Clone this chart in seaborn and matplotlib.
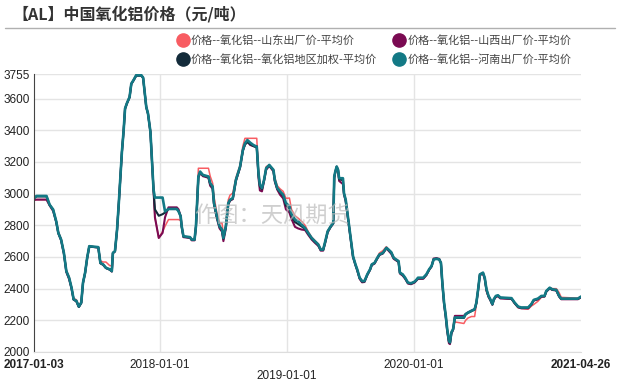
import pandas as pd
import matplotlib.pyplot as plt
from matplotlib.lines import Line2D
import matplotlib.transforms as mtransforms
import seaborn as sns

# 数据
dates = [
    "2017-01-03", "2017-01-10", "2017-02-08", "2017-02-17", "2017-02-27", "2017-03-08",
    "2017-03-14", "2017-03-22", "2017-03-30", "2017-04-06", "2017-04-14", "2017-04-21",
    "2017-04-27", "2017-05-05", "2017-05-12", "2017-05-19", "2017-05-24", "2017-05-30",
    "2017-06-05", "2017-06-11", "2017-07-07", "2017-07-13", "2017-07-21", "2017-07-29",
    "2017-08-09", "2017-08-15", "2017-08-18", "2017-08-24", "2017-08-30", "2017-09-04",
    "2017-09-08", "2017-09-13", "2017-09-18", "2017-09-22", "2017-09-27", "2017-10-05",
    "2017-10-10", "2017-10-17", "2017-10-24", "2017-11-08", "2017-11-13", "2017-11-17",
    "2017-11-22", "2017-11-27", "2017-12-04", "2017-12-09", "2017-12-13", "2017-12-17",
    "2017-12-28", "2018-01-08", "2018-01-15", "2018-01-25", "2018-02-18", "2018-02-23",
    "2018-03-01", "2018-03-04", "2018-03-09", "2018-03-28", "2018-04-02", "2018-04-10",
    "2018-04-14", "2018-04-21", "2018-04-26", "2018-05-04", "2018-05-20", "2018-05-25",
    "2018-06-01", "2018-06-05", "2018-06-13", "2018-06-21", "2018-06-28", "2018-07-02",
    "2018-07-09", "2018-07-16", "2018-07-21", "2018-07-29", "2018-08-07", "2018-08-19",
    "2018-08-27", "2018-09-02", "2018-09-09", "2018-09-17", "2018-09-26", "2018-10-06",
    "2018-10-11", "2018-10-15", "2018-10-21", "2018-10-27", "2018-11-02", "2018-11-11",
    "2018-11-23", "2018-11-27", "2018-12-04", "2018-12-12", "2018-12-21", "2018-12-29",
    "2019-01-08", "2019-01-14", "2019-01-24", "2019-02-02", "2019-02-12", "2019-02-22",
    "2019-03-03", "2019-03-13", "2019-03-22", "2019-04-01", "2019-04-08", "2019-04-15",
    "2019-04-20", "2019-04-28", "2019-05-07", "2019-05-14", "2019-05-17", "2019-05-20",
    "2019-05-24", "2019-05-28", "2019-05-31", "2019-06-11", "2019-06-14", "2019-06-19",
    "2019-06-24", "2019-06-30", "2019-07-05", "2019-07-10", "2019-07-17", "2019-07-22",
    "2019-07-29", "2019-08-05", "2019-08-12", "2019-08-20", "2019-08-28", "2019-09-02",
    "2019-09-10", "2019-09-18", "2019-09-24", "2019-10-04", "2019-10-14", "2019-10-20",
    "2019-10-28", "2019-11-04", "2019-11-11", "2019-11-18", "2019-11-22", "2019-11-30",
    "2019-12-07", "2019-12-15", "2019-12-24", "2020-01-03", "2020-01-08", "2020-01-13",
    "2020-01-28", "2020-02-06", "2020-02-14", "2020-02-21", "2020-02-27", "2020-03-06",
    "2020-03-14", "2020-03-19", "2020-03-23", "2020-03-28", "2020-04-02", "2020-04-06",
    "2020-04-11", "2020-04-14", "2020-04-18", "2020-04-23", "2020-04-28", "2020-05-24",
    "2020-05-29", "2020-06-05", "2020-06-15", "2020-06-24", "2020-06-29", "2020-07-04",
    "2020-07-09", "2020-07-18", "2020-07-23", "2020-07-28", "2020-08-03", "2020-08-08",
    "2020-08-14", "2020-08-18", "2020-08-24", "2020-08-30", "2020-09-06", "2020-10-08",
    "2020-10-17", "2020-10-27", "2020-11-05", "2020-11-25", "2020-12-04", "2020-12-11",
    "2020-12-23", "2021-01-02", "2021-01-11", "2021-01-16", "2021-01-26", "2021-02-02",
    "2021-02-14", "2021-02-22", "2021-02-28", "2021-04-17", "2021-04-26",
]

henan = [
    2970, 2985, 2985, 2930, 2900, 2825, 2752, 2710, 2626, 2511, 2469, 2406,
    2333, 2323, 2287, 2312, 2438, 2500, 2595, 2668, 2662, 2563, 2553, 2532,
    2522, 2511, 2626, 2637, 2773, 2940, 3087, 3265, 3401, 3537, 3569, 3610,
    3694, 3719, 3747, 3747, 3732, 3652, 3548, 3506, 3391, 3192, 3024, 2975,
    2975, 2975, 2888, 2903, 2903, 2888, 2857, 2794, 2731, 2725, 2710, 2710,
    2794, 3108, 3139, 3118, 3108, 3066, 3045, 2940, 2857, 2794, 2773, 2720,
    2794, 2940, 2961, 2972, 3087, 3171, 3275, 3317, 3338, 3322, 3307, 3296,
    3129, 3056, 3035, 3087, 3160, 3181, 3150, 3087, 3035, 3014, 2993, 2940,
    2920, 2870, 2836, 2825, 2804, 2783, 2752, 2720, 2700, 2679, 2647, 2647,
    2689, 2762, 2794, 2815, 3108, 3139, 3171, 3150, 3097, 3097, 3003, 2961,
    2877, 2773, 2689, 2605, 2553, 2522, 2469, 2448, 2448, 2490, 2522, 2553,
    2563, 2595, 2616, 2626, 2658, 2647, 2630, 2595, 2584, 2574, 2501, 2490,
    2469, 2438, 2434, 2444, 2455, 2469, 2469, 2490, 2522, 2543, 2584, 2588,
    2584, 2563, 2438, 2312, 2228, 2145, 2071, 2061, 2124, 2145, 2218, 2218,
    2239, 2249, 2260, 2270, 2312, 2396, 2490, 2501, 2469, 2396, 2354, 2333,
    2302, 2333, 2354, 2358, 2344, 2340, 2312, 2287, 2281, 2281, 2302, 2329,
    2337, 2354, 2354, 2385, 2406, 2396, 2392, 2354, 2337, 2337, 2350,
]

shandong = [
    2960, 2962, 2962, 2930, 2900, 2825, 2760, 2715, 2630, 2515, 2475, 2410,
    2338, 2330, 2290, 2318, 2440, 2505, 2595, 2668, 2662, 2575, 2568, 2568,
    2545, 2545, 2626, 2637, 2773, 2940, 3087, 3265, 3401, 3537, 3569, 3610,
    3694, 3719, 3747, 3747, 3732, 3652, 3548, 3506, 3391, 3192, 3024, 2850,
    2720, 2760, 2794, 2836, 2836, 2836, 2830, 2794, 2731, 2725, 2710, 2710,
    2800, 3160, 3160, 3160, 3160, 3110, 3066, 2980, 2880, 2815, 2815, 2740,
    2800, 2960, 2990, 3003, 3100, 3180, 3300, 3349, 3349, 3349, 3349, 3349,
    3140, 3060, 3035, 3087, 3170, 3181, 3150, 3100, 3050, 3030, 3014, 2970,
    2972, 2900, 2860, 2845, 2825, 2800, 2760, 2725, 2705, 2682, 2650, 2650,
    2692, 2765, 2796, 2818, 3100, 3130, 3165, 3150, 3097, 3080, 3003, 2961,
    2877, 2773, 2689, 2605, 2553, 2522, 2469, 2448, 2448, 2490, 2522, 2553,
    2565, 2600, 2625, 2640, 2665, 2647, 2630, 2600, 2584, 2574, 2501, 2490,
    2465, 2434, 2430, 2440, 2450, 2462, 2465, 2485, 2518, 2540, 2584, 2588,
    2584, 2563, 2438, 2312, 2228, 2145, 2071, 2061, 2124, 2145, 2190, 2180,
    2200, 2215, 2224, 2224, 2300, 2396, 2490, 2501, 2460, 2380, 2345, 2325,
    2302, 2330, 2350, 2350, 2340, 2335, 2305, 2280, 2275, 2270, 2290, 2300,
    2320, 2345, 2350, 2385, 2406, 2400, 2400, 2375, 2345, 2340, 2350,
]

shanxi = [
    2960, 2962, 2962, 2925, 2890, 2820, 2750, 2705, 2620, 2505, 2460, 2400,
    2330, 2320, 2284, 2310, 2435, 2498, 2592, 2665, 2660, 2560, 2550, 2530,
    2520, 2508, 2624, 2635, 2770, 2938, 3085, 3262, 3400, 3535, 3567, 3608,
    3692, 3717, 3745, 3745, 3730, 3650, 3546, 3504, 3389, 3190, 3020, 2850,
    2720, 2752, 2850, 2913, 2913, 2900, 2857, 2790, 2725, 2720, 2705, 2705,
    2790, 3100, 3130, 3110, 3100, 3050, 3030, 2930, 2845, 2780, 2760, 2700,
    2780, 2930, 2955, 2965, 3080, 3165, 3270, 3310, 3330, 3307, 3300, 3300,
    3100, 3020, 3014, 3080, 3150, 3175, 3140, 3075, 3025, 2993, 2970, 2900,
    2880, 2840, 2790, 2780, 2773, 2770, 2740, 2710, 2690, 2670, 2640, 2640,
    2680, 2755, 2790, 2810, 3100, 3135, 3170, 3145, 3080, 3060, 2995, 2950,
    2865, 2765, 2680, 2598, 2548, 2515, 2462, 2440, 2442, 2485, 2518, 2548,
    2558, 2590, 2612, 2622, 2655, 2640, 2620, 2588, 2578, 2568, 2495, 2482,
    2462, 2432, 2428, 2438, 2450, 2462, 2462, 2485, 2518, 2540, 2590, 2592,
    2588, 2560, 2430, 2300, 2215, 2130, 2055, 2050, 2115, 2140, 2228, 2228,
    2240, 2250, 2262, 2270, 2310, 2390, 2485, 2495, 2462, 2390, 2348, 2328,
    2298, 2328, 2348, 2352, 2338, 2335, 2308, 2282, 2276, 2276, 2298, 2325,
    2332, 2350, 2350, 2380, 2402, 2392, 2388, 2350, 2333, 2333, 2345,
]

jiaquan = [
    2970, 2982, 2982, 2928, 2898, 2822, 2750, 2708, 2624, 2509, 2466, 2404,
    2331, 2321, 2285, 2310, 2436, 2499, 2593, 2666, 2660, 2561, 2551, 2530,
    2520, 2509, 2624, 2635, 2771, 2938, 3085, 3263, 3400, 3535, 3567, 3608,
    3692, 3717, 3745, 3745, 3730, 3650, 3546, 3504, 3389, 3190, 3022, 2900,
    2860, 2870, 2880, 2903, 2903, 2888, 2857, 2792, 2728, 2722, 2708, 2708,
    2792, 3105, 3135, 3115, 3105, 3060, 3040, 2935, 2852, 2790, 2768, 2715,
    2790, 2935, 2958, 2968, 3084, 3168, 3272, 3310, 3325, 3312, 3300, 3290,
    3120, 3045, 3028, 3084, 3158, 3178, 3146, 3082, 3030, 3008, 2985, 2925,
    2905, 2860, 2820, 2808, 2793, 2778, 2748, 2716, 2696, 2675, 2644, 2644,
    2686, 2759, 2792, 2812, 3104, 3136, 3169, 3148, 3090, 3085, 3000, 2957,
    2872, 2770, 2686, 2602, 2551, 2519, 2466, 2445, 2446, 2488, 2520, 2551,
    2561, 2593, 2614, 2624, 2656, 2644, 2627, 2593, 2581, 2571, 2499, 2487,
    2466, 2436, 2432, 2442, 2453, 2466, 2466, 2488, 2520, 2541, 2586, 2590,
    2586, 2561, 2435, 2308, 2224, 2140, 2066, 2058, 2121, 2143, 2215, 2215,
    2237, 2247, 2258, 2268, 2310, 2394, 2488, 2499, 2466, 2394, 2351, 2331,
    2300, 2331, 2351, 2356, 2342, 2338, 2310, 2285, 2279, 2279, 2300, 2327,
    2335, 2352, 2352, 2383, 2404, 2394, 2390, 2352, 2335, 2335, 2348,
]

names = [
    "价格--氧化铝--山东出厂价-平均价",
    "价格--氧化铝--山西出厂价-平均价",
    "价格--氧化铝--氧化铝地区加权-平均价",
    "价格--氧化铝--河南出厂价-平均价",
]
colors = ["#f85c62", "#7a0a52", "#132b3a", "#137985"]
widths = [1.1, 1.5, 1.5, 1.9]

frames = []
for name, vals in zip(names, [shandong, shanxi, jiaquan, henan]):
    frames.append(pd.DataFrame({"date": pd.to_datetime(dates), "price": vals, "series": name}))
df = pd.concat(frames, ignore_index=True)

sns.set_style("white")
plt.rcParams["font.family"] = ["Liberation Sans", "Noto Sans CJK SC", "DejaVu Sans"]
cjk = ["Noto Sans CJK SC", "DejaVu Sans"]

fig = plt.figure(figsize=(6.19, 3.85), dpi=100)
ax = fig.add_axes([34 / 619, 1 - 352 / 385, (581 - 34) / 619, (352 - 74) / 385])

for name, col, lw in zip(names, colors, widths):
    sns.lineplot(data=df[df["series"] == name], x="date", y="price", color=col,
                 linewidth=lw, ax=ax, legend=False)

ax.set_xlim(pd.Timestamp("2017-01-03"), pd.Timestamp("2021-04-26"))
ax.set_ylim(2000, 3755)
ax.set_yticks([2000, 2200, 2400, 2600, 2800, 3000, 3200, 3400, 3600, 3755])
ax.tick_params(axis="y", labelsize=8.5, colors="#222222", length=0, pad=3)
ax.set_xticks(pd.to_datetime(["2018-01-01", "2019-01-01", "2020-01-01"]))
ax.set_xticklabels([])
ax.tick_params(axis="x", length=0)
ax.grid(True, color="#e4e4e4", linewidth=1)
ax.set_xlabel("")
ax.set_ylabel("")
for s in ["top", "right"]:
    ax.spines[s].set_visible(False)
ax.spines["left"].set_color("#444444")
ax.spines["bottom"].set_color("#dddddd")

# x 轴标签
xlabels = ["2017-01-03", "2018-01-01", "2019-01-01", "2020-01-01", "2021-04-26"]
xlab_y = [-0.045, -0.045, -0.085, -0.045, -0.045]
xlab_bold = [True, False, False, False, True]
trans = mtransforms.blended_transform_factory(ax.transData, ax.transAxes)
for lab, yy, b in zip(xlabels, xlab_y, xlab_bold):
    ax.text(pd.Timestamp(lab), yy, lab, transform=trans, ha="center", va="center",
            fontsize=8.5, color="#222222", fontweight="bold" if b else "normal")

# 标题
fig.text(12 / 619, 1 - 14 / 385, "【AL】中国氧化铝价格（元/吨）", family=cjk,
         fontsize=11.5, fontweight="bold", color="#333333", ha="left", va="center")
fig.add_artist(Line2D([5 / 619, 615 / 619], [1 - 28 / 385, 1 - 28 / 385],
                      color="#b0b0b0", linewidth=1, transform=fig.transFigure))

# 水印
ax.text(0.435, 0.49, "作图：天风期货", transform=ax.transAxes, family=cjk, fontsize=16,
        color="#bbbbbb", alpha=0.7, ha="center", va="center")

# 图例
handles = [Line2D([], [], marker="o", linestyle="", markersize=9.5, color=c) for c in colors]
order = [0, 2, 1, 3]
leg = fig.legend([handles[i] for i in order], [names[i] for i in order], ncol=2,
                 loc="upper left", bbox_to_anchor=(176 / 619, 1 - 35 / 385), frameon=False,
                 prop={"family": cjk, "size": 8.0}, handletextpad=0.15, columnspacing=1.35,
                 labelspacing=0.75, handlelength=1.2, borderpad=0, borderaxespad=0)
for t in leg.get_texts():
    t.set_color("#444444")

fig.savefig("out.png", dpi=100)
